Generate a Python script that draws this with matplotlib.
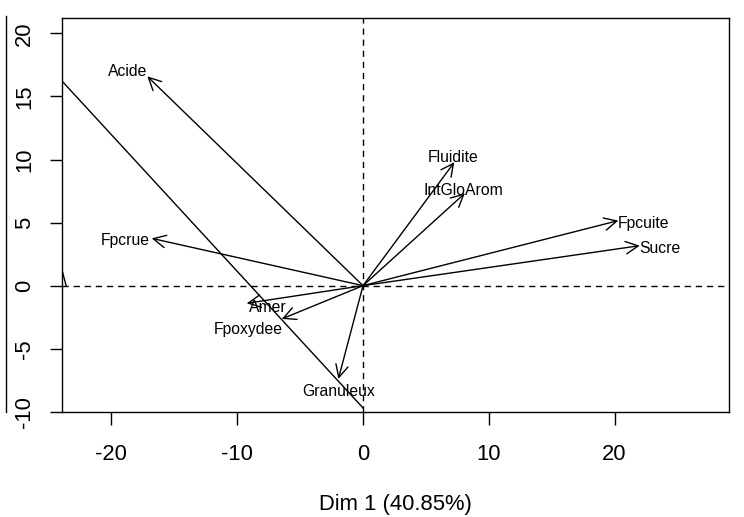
import matplotlib
matplotlib.use("Agg")
import matplotlib.pyplot as plt
from matplotlib.lines import Line2D

plt.rcParams['font.family'] = ['Liberation Sans', 'DejaVu Sans']

# Variable arrows (coordinates on Dim 1 / Dim 2)
variables = ["Acide", "Fpcrue", "Amer", "Fpoxydee", "Granuleux",
             "Fluidite", "IntGloArom", "Fpcuite", "Sucre"]
dim1 = [-17.15, -16.8, -9.25, -6.46, -1.96, 7.26, 8.1, 20.3, 22.0]
dim2 = [16.6, 3.75, -1.4, -2.64, -7.4, 9.79, 7.33, 5.16, 3.17]

# extra straight segments visible in the plot
seg1_x = [-30.0, 0.0]
seg1_y = [22.8, -9.7]
seg2_x = [-24.3, -23.6]
seg2_y = [2.6, 0.0]

xticks = [-20, -10, 0, 10, 20]
yticks = [-10, -5, 0, 5, 10, 15, 20]
xlabel = "Dim 1 (40.85%)"

# label offsets (pixels, right / down) from arrow tip
lab_dx = [-20, -26, 21, -34, 0, -1, -2, 25, 20]
lab_dy = [-5, 2, 4, 11, 13, -5, -3, 3, 3]

W, H = 744, 517
fig = plt.figure(figsize=(W / 100, H / 100), dpi=100)
L, R, T, B = 62, 729, 18.3, 412
ax = fig.add_axes([L / W, 1 - B / H, (R - L) / W, (B - T) / H])
ax.set_xlim(-23.93, (R - 363) / 12.58)
ax.set_ylim(-10.02, 21.2)

ax.axhline(0, color='black', lw=1.0, dashes=(4.5, 3.5))
ax.axvline(0, color='black', lw=1.0, dashes=(4.5, 3.5))

ax.plot(seg1_x, seg1_y, color='black', lw=1.0)
ax.plot(seg2_x, seg2_y, color='black', lw=1.0)

for name, x, y, dx, dy in zip(variables, dim1, dim2, lab_dx, lab_dy):
    ax.annotate('', xy=(x, y), xytext=(0, 0),
                arrowprops=dict(arrowstyle='->,head_length=0.9,head_width=0.45',
                                mutation_scale=10, shrinkA=0, shrinkB=0,
                                lw=1.0, color='black'))
    ax.annotate(name, xy=(x, y), xytext=(dx * 0.72, -dy * 0.72),
                textcoords='offset points', ha='center', va='center',
                fontsize=11.3, color='black')

for s in ax.spines.values():
    s.set_linewidth(1.0)
    s.set_color('black')

ax.set_xticks(xticks)
ax.set_yticks(yticks)
ax.set_xticklabels([str(v) for v in xticks])
ax.set_yticklabels([str(v) for v in yticks], rotation=90, va='center')
ax.tick_params(axis='x', length=9, width=1.0, pad=14, labelsize=15.8)
ax.tick_params(axis='y', length=9, width=1.0, pad=10.5, labelsize=15.8)
ax.set_xlabel(xlabel, fontsize=15.8, labelpad=21)

fig.add_artist(Line2D([6.5 / W, 6.5 / W], [1 - 16 / H, 1 - 412 / H],
                      transform=fig.transFigure, color='black', lw=1.0))

fig.savefig("out.png", dpi=100)
